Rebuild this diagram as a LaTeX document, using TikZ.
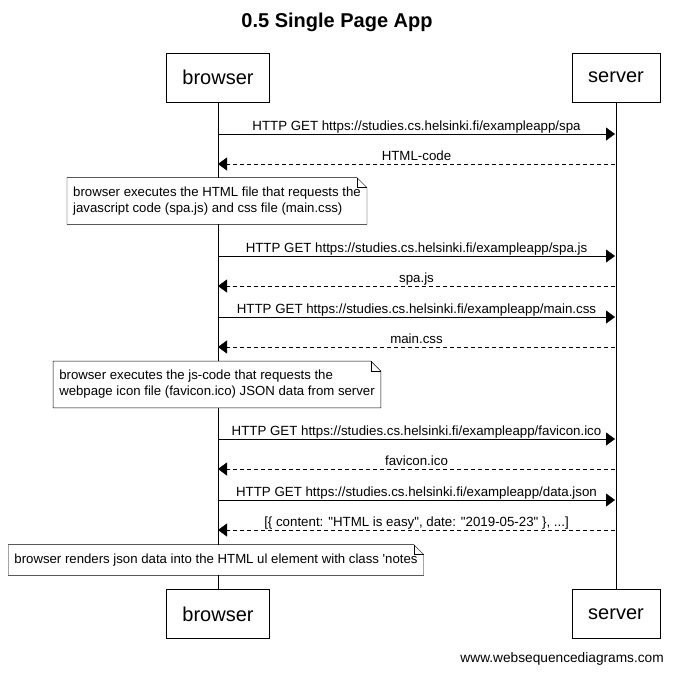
\documentclass[tikz,border=0pt]{standalone}
\usepackage{fontspec}
\setmainfont{Liberation Sans}
\newfontfamily\wsd{Liberation Sans}
\usetikzlibrary{positioning,arrows.meta}

\newcommand\dogear[1]{%
  \draw (#1.north west) -- ([xshift=-10pt]#1.north east) -- ([yshift=-10pt]#1.north east) -- (#1.south east) -- (#1.south west) -- cycle;
  \draw ([xshift=-10pt]#1.north east) |- ([yshift=-10pt]#1.north east);}

\begin{document}
\begin{tikzpicture}[x=1pt,y=-1pt,
  actor/.style={draw,minimum height=49pt,inner xsep=16pt,font=\wsd\fontsize{20}{24}\selectfont},
  note/.style={fill=white,align=left,inner xsep=6pt,inner ysep=9pt,font=\wsd\fontsize{13.2}{16}\selectfont},
  lbl/.style={anchor=base,yshift=4pt,inner sep=0pt,font=\wsd\fontsize{13.3}{16}\selectfont},
  req/.style={-{Triangle[length=9pt,width=13pt]}},
  resp/.style={req,dash pattern=on 4pt off 3pt}]
\useasboundingbox (0,0) rectangle (673,673);

\node[font=\wsd\bfseries\fontsize{20}{24}\selectfont] (title) at (337,22) {0.5 Single Page App};

\node[actor] (bTop) at (218,77.5) {browser};
\node[actor] (sTop) at (616,77.5) {server};
\node[actor] (bBot) at (218,614) {browser};
\node[actor] (sBot) at (616,614) {server};
\draw (bTop) -- (bBot);
\draw (sTop) -- (sBot);

% points on the lifelines
\foreach \i/\y in {1/134,2/164,3/256,4/286,5/317,6/347,7/439,8/469,9/500,10/530}{
  \coordinate (b\i) at (218,\y);
  \coordinate (s\i) at (615,\y);
}

\draw[req] (b1) -- node[lbl]{HTTP GET https://studies.cs.helsinki.fi/exampleapp/spa} (s1);
\draw[resp] (s2) -- node[lbl]{HTML-code} (b2);

\node[note] (n1) at (217,201) {browser executes the HTML file that requests the\\javascript code (spa.js) and css file (main.css)};
\dogear{n1}

\draw[req] (b3) -- node[lbl]{HTTP GET https://studies.cs.helsinki.fi/exampleapp/spa.js} (s3);
\draw[resp] (s4) -- node[lbl]{spa.js} (b4);
\draw[req] (b5) -- node[lbl]{HTTP GET https://studies.cs.helsinki.fi/exampleapp/main.css} (s5);
\draw[resp] (s6) -- node[lbl]{main.css} (b6);

\node[note] (n2) at (217,384.5) {browser executes the js-code that requests the\\webpage icon file (favicon.ico) JSON data from server};
\dogear{n2}

\draw[req] (b7) -- node[lbl]{HTTP GET https://studies.cs.helsinki.fi/exampleapp/favicon.ico} (s7);
\draw[resp] (s8) -- node[lbl]{favicon.ico} (b8);
\draw[req] (b9) -- node[lbl]{HTTP GET https://studies.cs.helsinki.fi/exampleapp/data.json} (s9);
\draw[resp] (s10) -- node[lbl]{[\{ content: "HTML is easy", date: "2019-05-23" \}, ...]} (b10);

\node[note] (n3) at (216,560) {browser renders json data into the HTML ul element with class 'notes};
\dogear{n3}

\node[anchor=east,inner sep=0pt,font=\wsd\fontsize{13.7}{16}\selectfont] (credit) at (664,659) {www.websequencediagrams.com};
\end{tikzpicture}
\end{document}
